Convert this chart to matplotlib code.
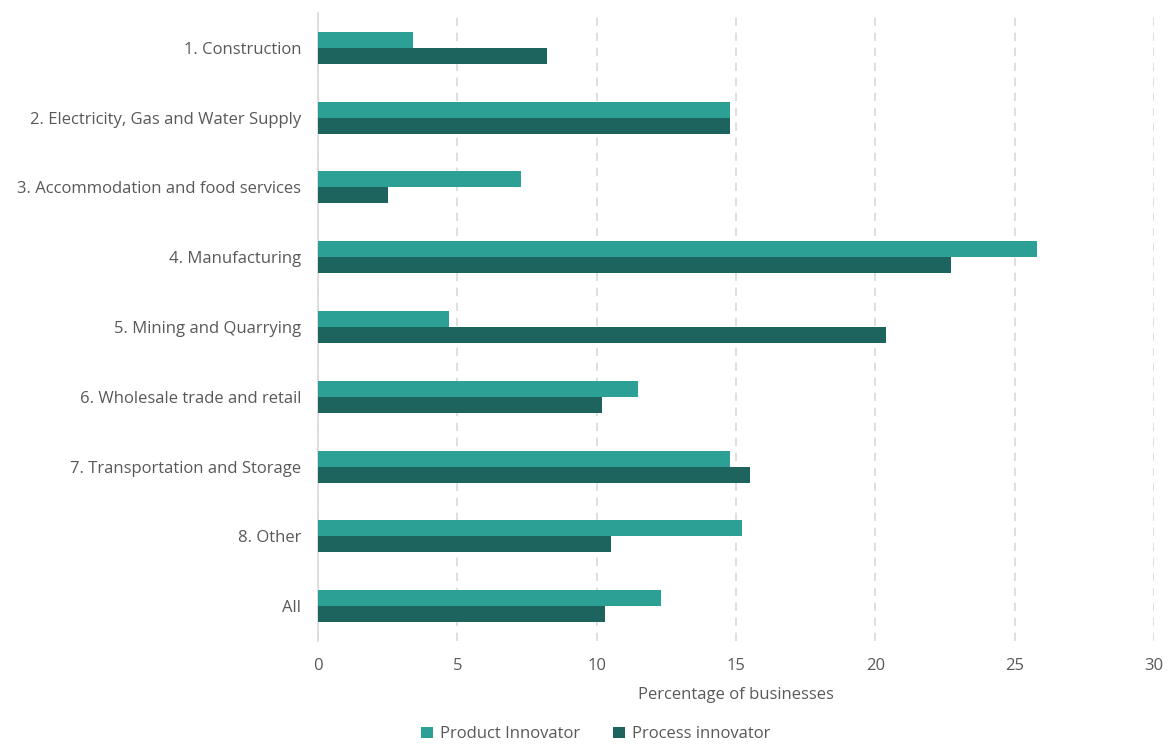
import numpy as np
import matplotlib.pyplot as plt

sectors = ["1. Construction", "2. Electricity, Gas and Water Supply",
           "3. Accommodation and food services", "4. Manufacturing",
           "5. Mining and Quarrying", "6. Wholesale trade and retail",
           "7. Transportation and Storage", "8. Other", "All"]
product = [3.4, 14.8, 7.3, 25.8, 4.7, 11.5, 14.8, 15.2, 12.3]
process = [8.2, 14.8, 2.5, 22.7, 20.4, 10.2, 15.5, 10.5, 10.3]

plt.rcParams["font.family"] = ["Open Sans", "DejaVu Sans"]
grey = "#595959"

fig = plt.figure(figsize = (11.68, 7.47), dpi = 100)
ax = fig.add_axes([0.2723, 0.1419, 0.7157, 0.8407])

y = np.arange(len(sectors))
h = 0.23
ax.barh(y - h / 2, product, height = h, color = "#2ca095", label = "Product Innovator", zorder = 3)
ax.barh(y + h / 2, process, height = h, color = "#1d645e", label = "Process innovator", zorder = 3)

ax.set_ylim(len(sectors) - 0.5, -0.5)
ax.set_xlim(0, 30)
ax.set_xticks(range(0, 31, 5))
ax.set_yticks(y, sectors)
ax.tick_params(axis = "both", length = 0, labelsize = 12, labelcolor = grey)
ax.tick_params(axis = "x", pad = 12)
ax.tick_params(axis = "y", pad = 12)
ax.grid(axis = "x", color = "#d9d9d9", linestyle = (0, (5, 4)), linewidth = 1.2, zorder = 0)
for s in ["top", "right", "bottom"]:
    ax.spines[s].set_visible(False)
ax.spines["left"].set_color("#d9d9d9")
ax.spines["left"].set_linewidth(1.2)

ax.set_xlabel("Percentage of businesses", fontsize = 12, color = grey)
ax.xaxis.set_label_coords(0.5, -0.073)

fig.legend(loc = "center", bbox_to_anchor = (0.51, 0.017), ncol = 2, frameon = False,
           fontsize = 12, labelcolor = grey, handlelength = 0.7, handleheight = 0.7,
           columnspacing = 2.0, handletextpad = 0.4, borderpad = 0)

fig.savefig("out.png", dpi = 100)
